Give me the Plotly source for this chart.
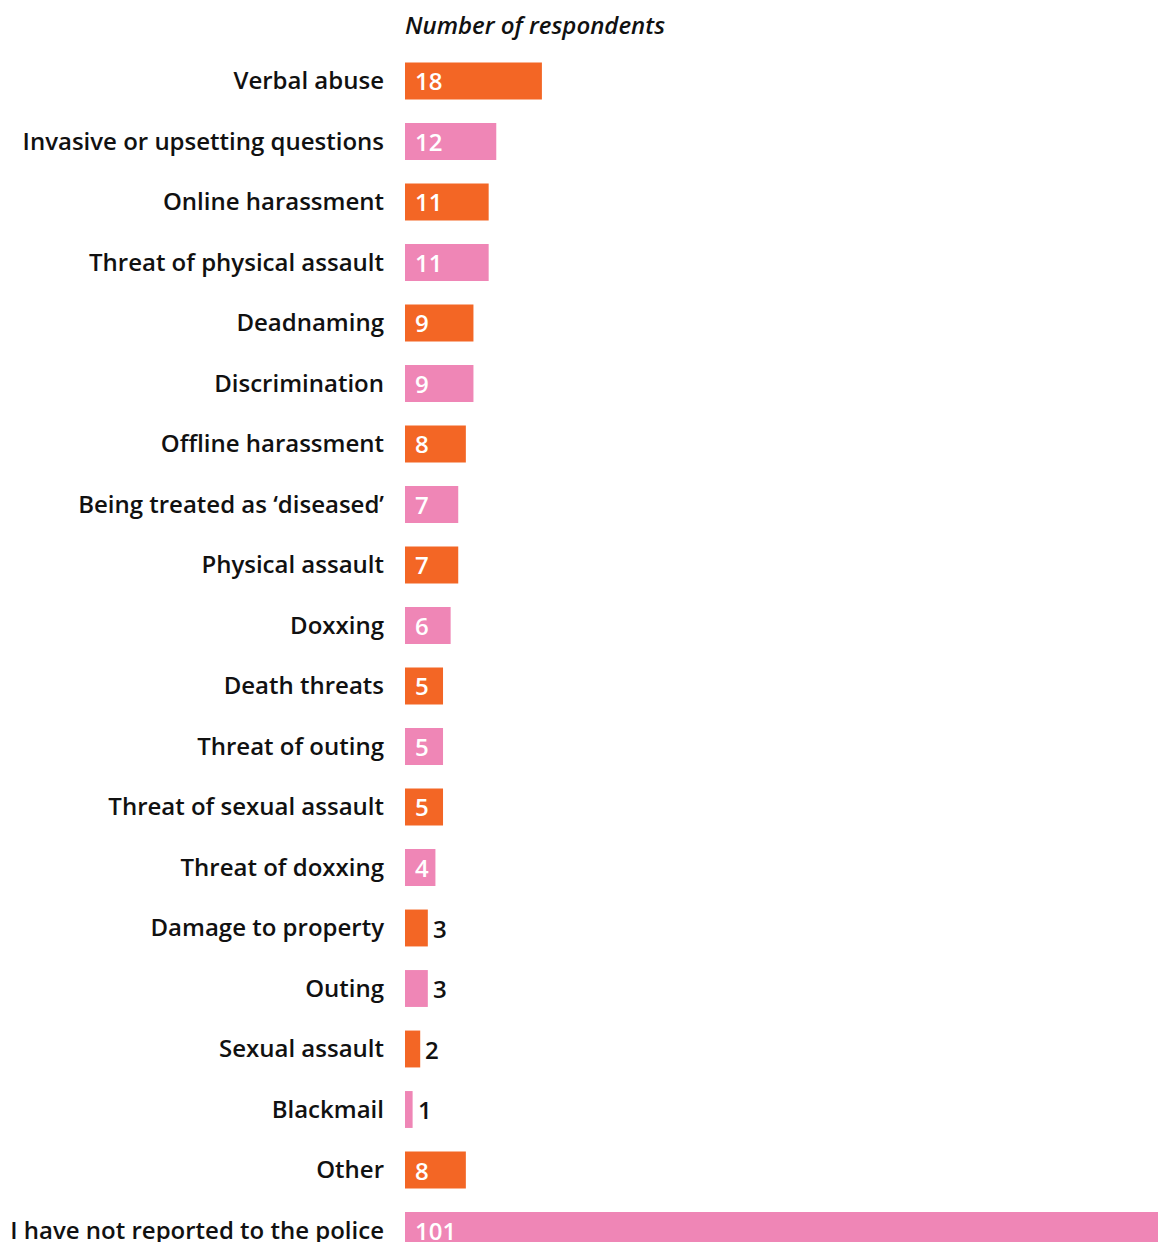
import plotly.graph_objects as go

# Reported incidents, in display order (top to bottom)
categories = [
    "Verbal abuse",
    "Invasive or upsetting questions",
    "Online harassment",
    "Threat of physical assault",
    "Deadnaming",
    "Discrimination",
    "Offline harassment",
    "Being treated as \u2018diseased\u2019",
    "Physical assault",
    "Doxxing",
    "Death threats",
    "Threat of outing",
    "Threat of sexual assault",
    "Threat of doxxing",
    "Damage to property",
    "Outing",
    "Sexual assault",
    "Blackmail",
    "Other",
    "I have not reported to the police",
]
respondents = [18, 12, 11, 11, 9, 9, 8, 7, 7, 6, 5, 5, 5, 4, 3, 3, 2, 1, 8, 101]

ORANGE = "#F36625"
PINK = "#EF86B6"
FONT = "Open Sans"
TEXT = "#111111"
SIZE = 24

colors = [ORANGE if i % 2 == 0 else PINK for i in range(len(categories))]

fig = go.Figure(
    go.Bar(
        x=respondents,
        y=categories,
        orientation="h",
        marker=dict(color=colors, line=dict(width=0)),
        width=0.61,
        hoverinfo="x+y",
    )
)

# Value labels: inside the bar start for wide bars, just past the end for narrow ones
annotations = []
for cat, val in zip(categories, respondents):
    inside = val >= 4
    annotations.append(
        dict(
            x=0 if inside else val,
            y=cat,
            xref="x",
            yref="y",
            text=str(val),
            showarrow=False,
            xanchor="left",
            yanchor="middle",
            xshift=8 if inside else 3,
            font=dict(family=FONT, size=SIZE, weight=600,
                      color="white" if inside else TEXT),
        )
    )

annotations.append(
    dict(
        x=0,
        y=1.021,
        xref="paper",
        yref="paper",
        text="<i>Number of respondents</i>",
        showarrow=False,
        xanchor="left",
        yanchor="middle",
        xshift=-2,
        font=dict(family=FONT, size=SIZE, weight=600, color=TEXT),
    )
)

fig.update_layout(
    width=1158,
    height=1242,
    margin=dict(l=405, r=0, t=50, b=0, pad=0),
    paper_bgcolor="white",
    plot_bgcolor="white",
    showlegend=False,
    annotations=annotations,
    font=dict(family=FONT, size=SIZE, weight=600, color=TEXT),
    xaxis=dict(
        range=[0, 99],
        visible=False,
        fixedrange=True,
    ),
    yaxis=dict(
        type="category",
        categoryorder="array",
        categoryarray=categories,
        range=[19.19, -0.512],
        showgrid=False,
        zeroline=False,
        showline=False,
        ticks="",
        ticklabelstandoff=20,
        tickfont=dict(family=FONT, size=SIZE, weight=600, color=TEXT),
        automargin=False,
        fixedrange=True,
    ),
)

fig.write_html("out.html")
